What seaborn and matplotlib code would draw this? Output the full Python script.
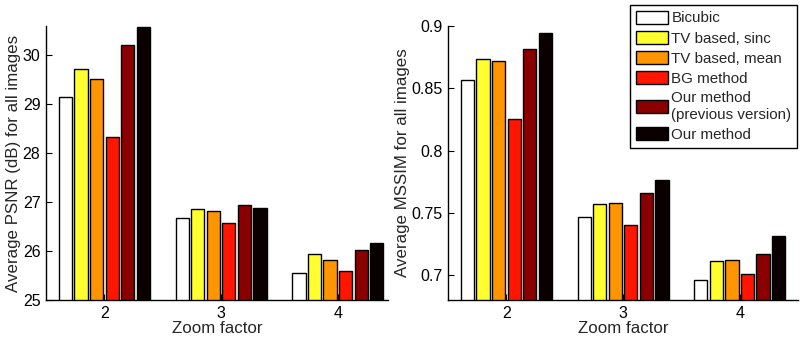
import numpy as np
import pandas as pd
import matplotlib
matplotlib.use("Agg")
import matplotlib.pyplot as plt
import seaborn as sns

# ---------------- data ----------------
zoom_factors = ["2", "3", "4"]
methods = ["Bicubic", "TV based, sinc", "TV based, mean", "BG method",
           "Our method\n(previous version)", "Our method"]

psnr_bicubic = [29.14, 26.67, 25.55]
psnr_tv_sinc = [29.72, 26.87, 25.93]
psnr_tv_mean = [29.52, 26.81, 25.81]
psnr_bg = [28.34, 26.57, 25.59]
psnr_ours_prev = [30.22, 26.95, 26.02]
psnr_ours = [30.58, 26.88, 26.16]

mssim_bicubic = [0.8563, 0.7465, 0.6960]
mssim_tv_sinc = [0.8739, 0.7570, 0.7112]
mssim_tv_mean = [0.8715, 0.7577, 0.7122]
mssim_bg = [0.8254, 0.7400, 0.7008]
mssim_ours_prev = [0.8814, 0.7657, 0.7168]
mssim_ours = [0.8947, 0.7764, 0.7315]

colors = ["#FFFFFF", "#FFFF30", "#FF9500", "#FF1500", "#8A0000", "#0B0000"]

psnr_ticks = [25, 26, 27, 28, 29, 30]
mssim_ticks = [0.7, 0.75, 0.8, 0.85, 0.9]
mssim_tick_labels = ["0.7", "0.75", "0.8", "0.85", "0.9"]

# ---------------- table ----------------
psnr_all = [psnr_bicubic, psnr_tv_sinc, psnr_tv_mean, psnr_bg, psnr_ours_prev, psnr_ours]
mssim_all = [mssim_bicubic, mssim_tv_sinc, mssim_tv_mean, mssim_bg, mssim_ours_prev, mssim_ours]
rows = []
for m, pv, sv in zip(methods, psnr_all, mssim_all):
    for z, p, s in zip(zoom_factors, pv, sv):
        rows.append({"zoom": z, "method": m, "psnr": p, "mssim": s})
df = pd.DataFrame(rows)

# ---------------- plot ----------------
sns.set_style("white")
plt.rcParams["font.family"] = ["Liberation Sans", "DejaVu Sans"]

W, H = 805, 338
fig = plt.figure(figsize=(W / 100, H / 100), dpi=100)
ax1 = fig.add_axes([46 / W, 1 - 300 / H, 342 / W, 274 / H])
ax2 = fig.add_axes([448 / W, 1 - 300 / H, 350 / W, 274 / H])

fs_lab = 12.2
fs_tick = 11.5
fs_leg = 10.9

for ax, col in [(ax1, "psnr"), (ax2, "mssim")]:
    sns.barplot(data=df, x="zoom", y=col, hue="method", order=zoom_factors,
                hue_order=methods, palette=colors, edgecolor="black",
                linewidth=1.0, width=0.8, gap=0.15, errorbar=None,
                saturation=1, ax=ax, legend=(ax is ax2))
    ax.set_axisbelow(True)
    ax.spines["top"].set_visible(False)
    ax.spines["right"].set_visible(False)
    for s in ["left", "bottom"]:
        ax.spines[s].set_color("black")
        ax.spines[s].set_linewidth(1.0)
    ax.tick_params(direction="in", length=4, width=0.8, colors="black",
                   labelsize=fs_tick, left=True, bottom=True, pad=4)
    ax.set_xlabel("Zoom factor", fontsize=fs_lab, labelpad=0)

ax1.set_xlim(-0.5, 2.43)
ax1.set_ylim(25, 30.6)
ax1.set_yticks(psnr_ticks)
ax1.set_ylabel("Average PSNR (dB) for all images", fontsize=fs_lab, labelpad=1)

ax2.set_xlim(-0.5, 2.5)
ax2.set_ylim(0.68, 0.9)
ax2.set_yticks(mssim_ticks)
ax2.set_yticklabels(mssim_tick_labels)
ax2.set_ylabel("Average MSSIM for all images", fontsize=fs_lab, labelpad=1)

handles, labels = ax2.get_legend_handles_labels()
ax2.get_legend().remove()
leg = fig.legend(handles, labels, loc="upper left",
                 bbox_to_anchor=(630 / W, 1 - 5 / H), bbox_transform=fig.transFigure,
                 fontsize=fs_leg, frameon=True, fancybox=False, framealpha=1,
                 edgecolor="black", handlelength=2.15, handleheight=0.95,
                 handletextpad=0.2, labelspacing=0.36, borderpad=0.38,
                 borderaxespad=0)
leg.get_frame().set_linewidth(1.0)

fig.savefig("out.png", dpi=100, facecolor="white")
